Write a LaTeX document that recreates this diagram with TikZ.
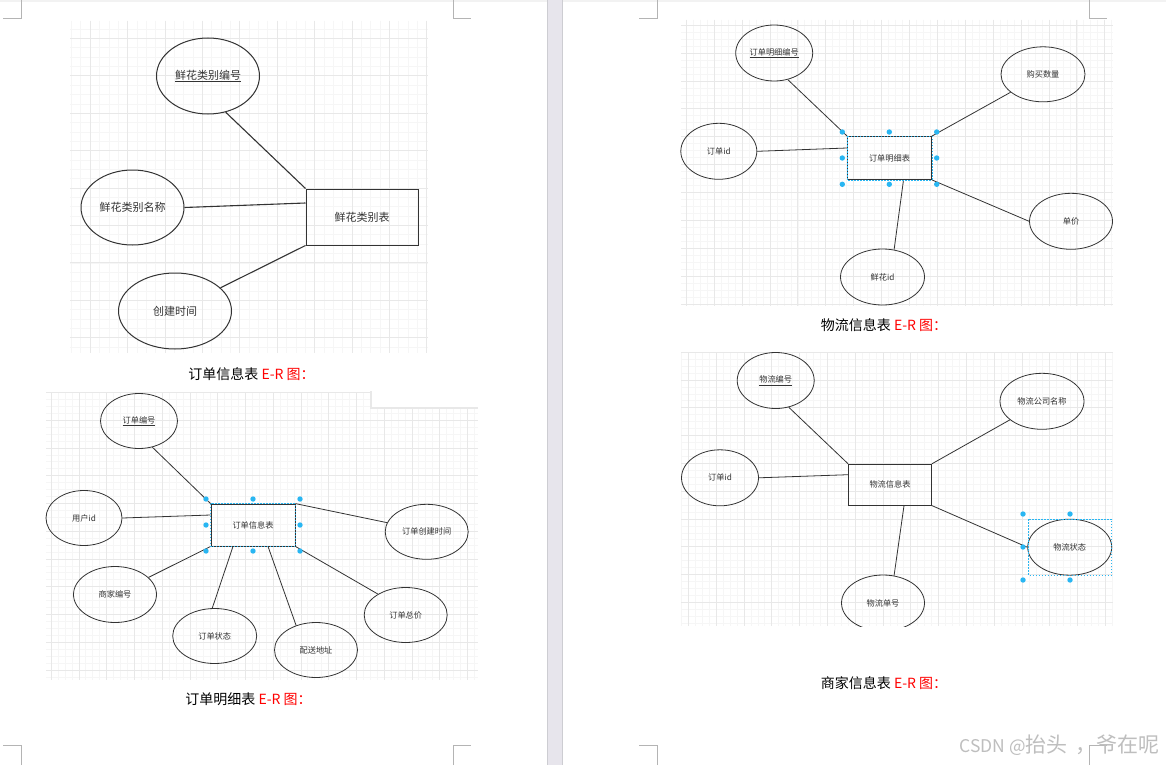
\documentclass[tikz,border=0pt]{standalone}
\usepackage{fontspec}
\newfontfamily\cjk{Noto Sans CJK SC}
\usetikzlibrary{shapes.geometric}

\begin{document}
\begin{tikzpicture}[x=1pt, y=-1pt,
    attribut/.style={ellipse, draw=colTrait, line width=0.8pt, inner sep=0pt, text=colTexte, font=\cjk\fontsize{8.2}{10}\selectfont},
    grandattribut/.style={attribut, line width=1pt, font=\cjk\fontsize{11}{13}\selectfont},
    entite/.style={rectangle, draw=colTrait, line width=0.8pt, inner sep=0pt, text=colTexte, font=\cjk\fontsize{8.2}{10}\selectfont},
    grandentite/.style={entite, line width=1pt, font=\cjk\fontsize{11}{13}\selectfont},
    lien/.style={draw=colTrait, line width=0.8pt},
    grandlien/.style={draw=colTrait, line width=1.1pt},
    legende/.style={inner sep=0pt, font=\cjk\fontsize{14}{16}\selectfont},
    grilleMin/.style={draw=colGrilleMin, line width=0.4pt},
    grilleMaj/.style={draw=colGrilleMaj, line width=0.5pt},
    selection/.style={draw=colSel, dash pattern=on 1.5pt off 1.5pt, line width=0.7pt},
    poignee/.style={fill=colSel},
    repere/.style={draw=colRepere, line width=0.8pt}]

    % Définition des couleurs
    \definecolor{colTrait}{RGB}{51, 51, 51}
    \definecolor{colTexte}{RGB}{51, 51, 51}
    \definecolor{colGrilleMin}{RGB}{246, 246, 246}
    \definecolor{colGrilleMaj}{RGB}{232, 232, 232}
    \definecolor{colSel}{RGB}{41, 182, 242}
    \definecolor{colRepere}{RGB}{180, 180, 180}
    \definecolor{colSep}{RGB}{231, 229, 236}
    \definecolor{colSepBord}{RGB}{205, 205, 210}
    \definecolor{colFiligrane}{RGB}{190, 190, 190}

    \useasboundingbox (0,0) rectangle (1166,765);
    \fill[white] (0,0) rectangle (1166,765);
    \fill[black!5] (0,0) rectangle (1166,2);

    % Grilles
    \foreach \xa/\ya/\xb/\yb/\ox/\oy/\pas in {70/21/428/353/90/38.3/37.4, 46/392/478/680/51/392.3/27.75, 681/20/1113/306/714/25/27.9, 681/352/1113/626/716/352/27.8}{
        \begin{scope}
            \clip (\xa,\ya) rectangle (\xb,\yb);
            \foreach \k in {-8,...,64}{
                \draw[grilleMin] ({\ox+\k*\pas/4},\ya) -- ({\ox+\k*\pas/4},\yb);
                \draw[grilleMin] (\xa,{\oy+\k*\pas/4}) -- (\xb,{\oy+\k*\pas/4});
            }
            \foreach \k in {-2,...,16}{
                \draw[grilleMaj] ({\ox+\k*\pas},\ya) -- ({\ox+\k*\pas},\yb);
                \draw[grilleMaj] (\xa,{\oy+\k*\pas}) -- (\xb,{\oy+\k*\pas});
            }
        \end{scope}
    }
    % Cadre blanc
    \fill[white] (370,391) rectangle (479,408);
    \draw[black!9, line width=1.6pt] (371,391) -- (371,408) -- (478,408);

    % Diagramme 1 : 鲜花类别表
    \node[grandentite, minimum width=112pt, minimum height=56pt] (tabCat) at (362,217) {鲜花类别表};
    \node[grandattribut, minimum width=103pt, minimum height=76pt] (numCat) at (208,76) {\underline{鲜花类别编号}};
    \node[grandattribut, minimum width=103pt, minimum height=75pt] (nomCat) at (132.5,207.5) {鲜花类别名称};
    \node[grandattribut, minimum width=113pt, minimum height=76pt] (dateCat) at (175,311) {创建时间};
    \draw[grandlien] (numCat.-64) -- (tabCat.north west);
    \draw[grandlien] (nomCat.east) -- ([yshift=14pt]tabCat.west);
    \draw[grandlien] (dateCat.27) -- (tabCat.south west);

    % Diagramme 2 : 订单信息表
    \node[entite, minimum width=84pt, minimum height=42pt] (tabCmd) at (253,525) {订单信息表};
    \node[attribut, minimum width=77pt, minimum height=55pt] (numCmd) at (139,421) {\underline{订单编号}};
    \node[attribut, minimum width=76pt, minimum height=55pt] (idUser) at (84,518) {用户id};
    \node[attribut, minimum width=83pt, minimum height=56pt] (numMarch) at (115,594.5) {商家编号};
    \node[attribut, minimum width=84pt, minimum height=55pt] (etatCmd) at (214.7,636) {订单状态};
    \node[attribut, minimum width=83pt, minimum height=55pt] (adrLiv) at (316,650) {配送地址};
    \node[attribut, minimum width=83pt, minimum height=55pt] (prixCmd) at (405.7,615) {订单总价};
    \node[attribut, minimum width=83pt, minimum height=55pt] (dateCmd) at (426.7,531.8) {订单创建时间};
    \draw[lien] (numCmd.-63) -- (tabCmd.north west);
    \draw[lien] (idUser.east) -- ([yshift=10pt]tabCmd.west);
    \draw[lien] (numMarch.27) -- (tabCmd.south west);
    \draw[lien] (etatCmd.95) -- ([xshift=-20pt]tabCmd.south);
    \draw[lien] (adrLiv.129) -- ([xshift=15pt]tabCmd.south);
    \draw[lien] (prixCmd.143) -- (tabCmd.south east);
    \draw[lien] (dateCmd.167) -- (tabCmd.north east);
    \draw[selection] (tabCmd.north west) rectangle (tabCmd.south east);
    \foreach \hx/\hy in {206/499, 253/499, 300/499, 206/525, 300/525, 206/551, 253/551, 300/551}
        \fill[poignee] (\hx,\hy) circle (2.7pt);

    % Diagramme 3 : 订单明细表
    \node[entite, minimum width=84pt, minimum height=43pt] (tabDet) at (889.5,158) {订单明细表};
    \node[attribut, minimum width=77pt, minimum height=56pt] (numDet) at (774.2,53) {\underline{订单明细编号}};
    \node[attribut, minimum width=84pt, minimum height=55pt] (qteDet) at (1043,74.3) {购买数量};
    \node[attribut, minimum width=76pt, minimum height=56pt] (idCmd) at (718.8,151.3) {订单id};
    \node[attribut, minimum width=83pt, minimum height=56pt] (prixDet) at (1071,221.3) {单价};
    \node[attribut, minimum width=84pt, minimum height=56pt] (idFleur) at (882.5,277) {鲜花id};
    \draw[lien] (numDet.-63) -- (tabDet.north west);
    \draw[lien] (qteDet.209) -- (tabDet.north east);
    \draw[lien] (idCmd.east) -- ([yshift=10pt]tabDet.west);
    \draw[lien] (prixDet.west) -- (tabDet.south east);
    \draw[lien] (idFleur.67) -- ([xshift=14pt]tabDet.south);
    \draw[selection] (tabDet.north west) rectangle (tabDet.south east);
    \foreach \hx/\hy in {842.3/132, 889.3/132, 936.7/132, 842.3/158, 936.7/158, 842.3/184.3, 889.3/184.3, 936.7/184.3}
        \fill[poignee] (\hx,\hy) circle (2.7pt);

    % Diagramme 4 : 物流信息表
    \node[entite, minimum width=83pt, minimum height=41pt] (tabLog) at (890,484.7) {物流信息表};
    \node[attribut, minimum width=77pt, minimum height=56pt] (numLog) at (775.7,380.5) {\underline{物流编号}};
    \node[attribut, minimum width=84pt, minimum height=56pt] (nomLog) at (1042,401.3) {物流公司名称};
    \node[attribut, minimum width=77pt, minimum height=56pt] (idCmdLog) at (720,477.8) {订单id};
    \node[attribut, minimum width=84pt, minimum height=56pt] (etatLog) at (1069.7,547.2) {物流状态};
    \begin{scope}
        \clip (681,352) rectangle (1113,626);
        \node[attribut, minimum width=83pt, minimum height=56pt] (numSuivi) at (883,603) {物流单号};
    \end{scope}
    \draw[lien] (numLog.-64) -- (tabLog.north west);
    \draw[lien] (nomLog.210) -- (tabLog.north east);
    \draw[lien] (idCmdLog.east) -- ([yshift=10pt]tabLog.west);
    \draw[lien] (etatLog.west) -- (tabLog.south east);
    \draw[lien] (numSuivi.68) -- ([xshift=14pt]tabLog.south);
    \draw[selection] (1028.3,519.3) rectangle (1111.7,575);
    \foreach \hx/\hy in {1023/514, 1070/514, 1023/547, 1023/580, 1070/580}
        \fill[poignee] (\hx,\hy) circle (2.7pt);

    % Légendes
    \node[legende] (leg1) at (251.5,374) {订单信息表 \textcolor{red}{E-R 图：}};
    \node[legende] (leg2) at (248.5,699) {订单明细表 \textcolor{red}{E-R 图：}};
    \node[legende] (leg3) at (884,325) {物流信息表 \textcolor{red}{E-R 图：}};
    \node[legende] (leg4) at (884,683) {商家信息表 \textcolor{red}{E-R 图：}};

    % Séparation des pages
    \fill[colSep] (547,0) rectangle (563,765);
    \draw[colSepBord, line width=0.8pt] (547.4,0) -- (547.4,765);
    \draw[colSepBord, line width=0.8pt] (562.6,0) -- (562.6,765);

    % Repères de coin
    \foreach \mx/\dir in {21/-1, 453/1, 657/-1, 1089/1}{
        \draw[repere] (\mx,0) -- (\mx,18) -- ({\mx+\dir*18},18);
        \draw[repere] (\mx,765) -- (\mx,745) -- ({\mx+\dir*18},745);
    }

    % Filigrane
    \node[anchor=east, inner sep=0pt, text=colFiligrane, font=\cjk] (filigrane) at (1160,745)
        {{\fontsize{17.5}{20}\selectfont CSDN @}{\fontsize{21}{23}\selectfont 抬头\hspace{8pt}，爷在呢}};

\end{tikzpicture}
\end{document}
